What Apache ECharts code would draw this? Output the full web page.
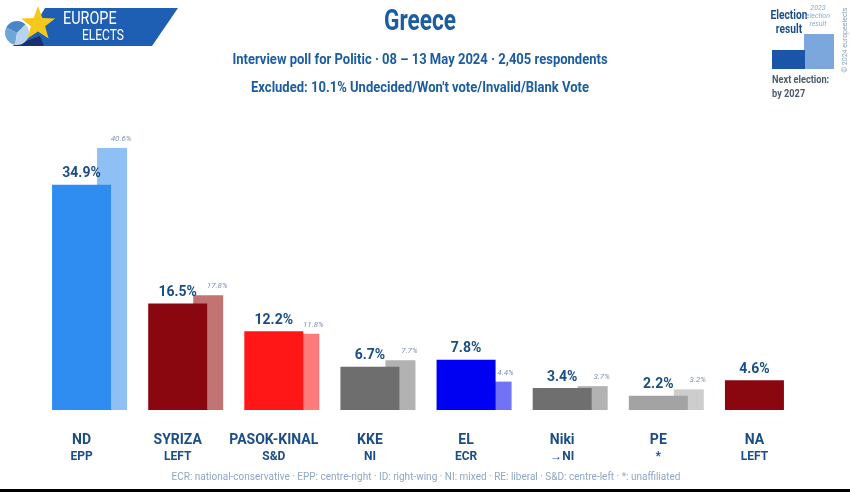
<!DOCTYPE html>
<html>
<head>
<meta charset="utf-8">
<script src="https://cdn.jsdelivr.net/npm/echarts@6/dist/echarts.min.js"></script>
<style>html,body{margin:0;padding:0;background:#fff;}#c{width:850px;height:492px;}</style>
</head>
<body>
<div id="c"></div>
<script>
const parties = ['ND', 'SYRIZA', 'PASOK-KINAL', 'KKE', 'EL', 'Niki', 'PE', 'NA'];
const groups = ['EPP', 'LEFT', 'S&D', 'NI', 'ECR', '→NI', '*', 'LEFT'];
const pollValues = [34.9, 16.5, 12.2, 6.7, 7.8, 3.4, 2.2, 4.6];
const electionValues = [40.6, 17.8, 11.8, 7.7, 4.4, 3.7, 3.2, null];
const mainColors = ['#2f8cf0', '#8a0710', '#ff1717', '#6e6e6e', '#0000f2', '#6f6f6f', '#a3a3a3', '#8a0710'];
const prevColors = ['#8ec0f6', '#c27474', '#ff7a7a', '#b2b2b2', '#7272f6', '#b2b2b2', '#cdcdcd', '#cccccc'];

const FONT = "Roboto, 'Noto Sans', sans-serif";
const DARK = '#1b4d86';

function starPoints(cx, cy, R, r) {
  const pts = [];
  for (let i = 0; i < 10; i++) {
    const a = -Math.PI / 2 + i * Math.PI / 5;
    const rad = i % 2 === 0 ? R : r;
    pts.push([cx + rad * Math.cos(a), cy + rad * Math.sin(a)]);
  }
  return pts;
}

const chart = echarts.init(document.getElementById('c'), null, {renderer: 'canvas'});
chart.setOption({
  backgroundColor: '#ffffff',
  animation: false,
  textStyle: {fontFamily: FONT},
  graphic: [
    // logo
    {type: 'polygon', shape: {points: [[45, 8], [178, 8], [152, 46], [22, 46]]}, style: {fill: '#1f5fb3'}},
    {type: 'polygon', shape: {points: [[12, 46], [40, 36], [44, 46]]}, style: {fill: '#1a2f6e'}},
    {type: 'sector', shape: {cx: 17, cy: 33, r: 12, startAngle: Math.PI * 0.55, endAngle: Math.PI * 1.15}, style: {fill: '#6fa6d6'}},
    {type: 'sector', shape: {cx: 17, cy: 33, r: 12, startAngle: Math.PI * 1.15, endAngle: Math.PI * 1.75}, style: {fill: '#4a86c6'}},
    {type: 'sector', shape: {cx: 17, cy: 33, r: 12, startAngle: -Math.PI * 0.25, endAngle: Math.PI * 0.55}, style: {fill: '#b8d4ee'}},
    {type: 'polygon', shape: {points: starPoints(38, 24, 18, 7.5)}, style: {fill: '#f6c81e'}},
    {type: 'text', x: 63, y: 10, scaleX: 0.8, style: {text: 'EUROPE', fill: '#ffffff', font: "18px " + FONT}},
    {type: 'text', x: 82, y: 29, scaleX: 0.8, style: {text: 'ELECTS', fill: '#ffffff', font: "15px " + FONT}},
    // title and subtitles
    {type: 'text', x: 420, y: 8, scaleX: 0.78, style: {text: 'Greece', fill: '#1b5da0', font: "bold 29px " + FONT, align: 'center'}},
    {type: 'text', x: 420, y: 53, scaleX: 0.93, style: {text: 'Interview poll for Politic · 08 – 13 May 2024 · 2,405 respondents', fill: '#1b5da0', font: "bold 14px " + FONT, align: 'center'}},
    {type: 'text', x: 420, y: 81, scaleX: 0.93, style: {text: "Excluded: 10.1% Undecided/Won't vote/Invalid/Blank Vote", fill: '#1b5da0', font: "bold 14px " + FONT, align: 'center'}},
    // legend box
    {type: 'text', x: 789, y: 9, scaleX: 0.85, style: {text: 'Election\nresult', fill: '#1b4d8a', font: "bold 12px " + FONT, lineHeight: 14, align: 'center'}},
    {type: 'text', x: 818, y: 4, style: {text: '2023\nelection\nresult', fill: '#86acd8', font: "italic 7px " + FONT, lineHeight: 8, align: 'center'}},
    {type: 'rect', shape: {x: 804, y: 34, width: 30, height: 35}, style: {fill: '#7ba7dc'}},
    {type: 'rect', shape: {x: 772, y: 50, width: 33, height: 19}, style: {fill: '#1a55a8'}},
    {type: 'text', x: 772, y: 73, scaleX: 0.92, style: {text: 'Next election:\nby 2027', fill: '#4b5a6e', font: "bold 10px " + FONT, lineHeight: 14}},
    {type: 'text', x: 845, y: 40, rotation: Math.PI / 2, style: {text: '© 2024 europeelects', fill: '#8aa0b8', font: "7px " + FONT, align: 'center', verticalAlign: 'middle'}},
    // footer
    {type: 'text', x: 426, y: 472, style: {text: 'ECR: national-conservative · EPP: centre-right · ID: right-wing · NI: mixed · RE: liberal · S&D: centre-left · *: unaffiliated', fill: '#8ea6c8', font: "10px " + FONT, align: 'center'}},
    {type: 'rect', shape: {x: 0, y: 489, width: 850, height: 3}, style: {fill: '#000000'}}
  ],
  grid: {left: 41.5, right: 39.5, top: 139, bottom: 82, containLabel: false},
  xAxis: {
    type: 'category',
    data: parties,
    axisLine: {show: false},
    axisTick: {show: false},
    axisLabel: {
      interval: 0,
      margin: 22,
      padding: [0, 16, 0, 0],
      formatter: function (v, i) { return '{n|' + v + '}\n{g|' + groups[i] + '}'; },
      rich: {
        n: {fontFamily: FONT, fontSize: 14, fontWeight: 'bold', color: DARK, lineHeight: 17, align: 'center'},
        g: {fontFamily: FONT, fontSize: 12, fontWeight: 'bold', color: DARK, lineHeight: 16, align: 'center'}
      }
    }
  },
  yAxis: {type: 'value', min: 0, max: 42, show: false, splitLine: {show: false}},
  series: [
    {
      name: 'Poll',
      type: 'bar',
      z: 3,
      barWidth: 59,
      barGap: '-23.73%',
      data: pollValues.map((v, i) => ({value: v, itemStyle: {color: mainColors[i]}})),
      label: {
        show: true, position: 'top', distance: 4,
        formatter: p => p.value.toFixed(1) + '%',
        fontFamily: FONT, fontSize: 14, fontWeight: 'bold', color: DARK
      }
    },
    {
      name: '2023 election',
      type: 'bar',
      z: 2,
      barWidth: 30,
      barGap: '-23.73%',
      data: electionValues.map((v, i) => ({value: v, itemStyle: {color: prevColors[i]}})),
      label: {
        show: true, position: 'top', distance: 5, offset: [9, 0],
        formatter: p => (p.value == null ? '' : p.value.toFixed(1) + '%'),
        fontFamily: FONT, fontSize: 8, fontStyle: 'italic', color: '#7f93b0'
      }
    }
  ]
});
</script>
</body>
</html>
